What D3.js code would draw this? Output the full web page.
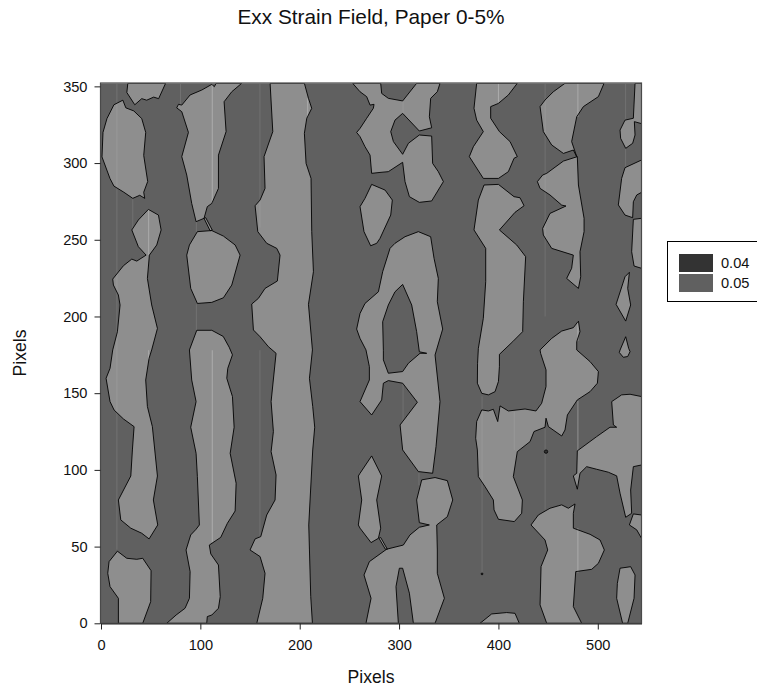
<!DOCTYPE html>
<html>
<head>
<meta charset="utf-8">
<script src="https://cdn.jsdelivr.net/npm/d3@7"></script>
<style>
    body { margin: 0; background: #fff; }
    svg { display: block; }
    text { font-family: "Liberation Sans", Arial, sans-serif; fill: #111; }
    .tick text { font-size: 14.6px; font-family: "Liberation Sans", Arial, sans-serif; fill: #111; }
    .tick line, .domain { stroke: #222; }
</style>
</head>
<body>
<svg width="757" height="688"></svg>
<script>
// **** Contour outlines, in [pixel x, pixel y] ****

var topLeftOval = [[1,304],[2,320],[6,329],[13,338],[22,341],[25,336],[33,334],[41,329],[45,320],[43,305],[47,288],[43,281],[44,277],[39,279],[32,277],[23,281],[13,285],[9,290]];
var topNotch = [[27,352],[26,346],[34,338],[41,342],[46,341],[53,343],[58,342],[65,352]];
var secondBandTop = [[141.6,352],[131.6,346.5],[123.9,340],[125.9,320.5],[118.2,305.2],[118.2,283.5],[111.5,273.7],[107,271.6],[103.7,264],[95.7,261.8],[91.3,273.7],[86.3,292.2],[81.3,304.2],[88,320],[81.3,333.5],[76.2,336],[78,338.3],[81.3,337.8],[89.7,344.4],[101.4,347.6],[111.5,351.3],[114.1,349.8],[115.8,352]];
var firstBand = [[11.8,178.2],[9.1,166.2],[5.1,159.7],[9.1,144.5],[13.2,139],[22.6,133.2],[33.3,128.2],[31.6,113],[30,96],[17.5,80.4],[19.9,67.4],[30,62],[41,58.7],[48.4,55],[57.1,64.1],[52.7,80.4],[56.8,96],[51.7,128.2],[46.7,141.3],[45,158.6],[48.4,172.8],[51,178.2],[56.8,192.2],[51,207.5],[46.7,224.8],[48.7,240],[56.1,246.6],[60.5,256.4],[57.8,266.1],[47.7,269.8],[37.6,262.9],[31,256.4],[37.6,245.5],[45.4,240],[36,236.1],[31,237.4],[22.6,233.1],[11.8,224.4],[12.5,220.5],[17.5,214],[19.2,207.5],[16.5,190]];
var bottomLeft = [[17.5,0],[17.5,16.3],[9.1,23.9],[6.8,32.6],[8.1,40.2],[16.5,47],[25.9,42.4],[36,41.7],[42,42.4],[50.4,34.3],[50,14.1],[42,0]];
var pentagon = [[97,255.3],[111.5,256],[123.2,252.4],[135,246.6],[140,240],[131.6,220.5],[123.2,212.2],[111.5,209.2],[97,208.5],[90.3,218.3],[86.3,240],[89,246.6]];
var sliverLeft = [[103.7,264],[105.4,264.4],[112,256.3],[109.8,255.9]];
var secondBandLow = [[89,178.2],[96.4,191],[111.5,191],[123,187],[129,180],[132.3,175],[127.6,166.2],[126.6,159.7],[132.3,147.8],[134,127.8],[130,110.8],[136,91.3],[135,73.2],[127.2,65.2],[120.5,56],[109,51],[110.5,45.2],[118.2,38],[120,17.4],[118.2,9.8],[111.5,5.4],[107,4.4],[106.4,0],[66.2,0],[75.6,5.4],[84.6,9.8],[89,16.3],[89.7,33.7],[85.6,47.8],[90.3,57.6],[95.7,61.3],[99,64.1],[97,95.6],[95.7,110.8],[90.3,127.8],[95.7,144.5],[91.3,158.6]];
var centreBand = [[170.2,352],[172.9,320.5],[164.1,304.2],[165.1,283.5],[160.1,275.9],[155.1,272.2],[157.8,255.3],[166.8,247.7],[176.9,244.4],[180.2,240],[177.5,223.1],[165.1,218.3],[158.4,211.8],[151.7,208.1],[153.4,191.2],[160.1,186.8],[168.5,180.3],[176.2,176],[171.2,144.5],[173.5,125],[171.2,111.9],[176.2,96.7],[175.2,80.4],[166.8,70.6],[160.8,56.5],[155.1,55],[150,47.8],[160.1,43.5],[165.1,32.6],[162.8,16.3],[156.8,0],[212.8,0],[211.1,17.4],[209.8,47.8],[209.1,64.1],[213.1,113],[215.1,127.8],[213.1,141.3],[209.8,159.7],[212.8,178.2],[208.8,207.9],[213.8,229.2],[212.1,255.3],[211.4,290],[206.4,299.8],[204.7,319.4],[207.1,329.2],[212.1,335.7],[208.8,342.2],[204.7,352]];
var topMiddle = [[253.3,352],[281.5,352],[282.5,345.4],[289.2,342.2],[303.6,340.5],[317.7,352],[341.2,352],[338.5,346.5],[331.8,342.2],[330.5,330.2],[332.8,323],[320.4,320.9],[303.6,332.4],[295.9,328],[291.6,320.5],[294.3,314],[303.6,305.7],[309.4,312.9],[320.4,318.3],[332.8,317.6],[333.8,299.8],[339.5,294.4],[344.6,287.9],[332.8,275.3],[320.4,274.4],[310.4,278.1],[306,287.9],[303.6,300.5],[289.2,294.4],[280.8,293.9],[272.4,293.3],[270.8,305.2],[265.7,310.7],[260.7,317.2],[257.3,320],[260.7,322.6],[267.4,329.2],[274.1,335.7],[274.8,338.3],[270.8,337.8],[267.4,343.3],[260.7,346.5]];
var smallOval = [[272.4,286.1],[285.9,282.4],[293.2,275.9],[291.6,266.1],[280.8,250.9],[277.5,247.7],[271.4,246.1],[264.7,255.3],[260.7,271.6],[265.7,277]];
var arch = [[319.4,255.3],[331.8,252],[335.2,237.9],[339.5,224.8],[338.5,209.6],[343.9,191.8],[336.2,174.9],[341.2,144.5],[337.2,115.2],[333.8,97.8],[319.4,98.9],[303.6,113],[301,129.3],[318.4,144.1],[303.6,156.5],[289.2,158.2],[284.2,156.5],[282.5,145.6],[272.4,135.8],[260.7,144.5],[270.1,158.6],[270.1,167.3],[266.7,178.2],[260.7,185.7],[257.3,191.8],[260.7,202],[265.7,208.5],[279.2,216.1],[283.5,229.2],[290.9,244.4],[295.9,247.7],[306,252]];
var archHole = [[303.6,220.9],[312.7,207.5],[317.7,190.1],[320.4,177],[327.8,176],[321.1,176],[309.4,169.5],[303.6,164.1],[289.2,163],[284.2,171.7],[284.2,178],[283.5,196.6],[289.2,207.5],[295.9,216.1]];
var lowerMiddle = [[322.8,93.5],[336.2,95],[348.6,93],[354,80.4],[348.6,69.5],[337.9,64.1],[338.5,47.8],[338.5,32.6],[345.6,16.3],[336.2,0],[314.4,0],[310.4,19.6],[303.6,35.9],[300.3,35.9],[296.9,23.9],[299.3,0],[266.7,0],[271.8,16.3],[264.7,31.5],[270.1,40.2],[287.5,48.3],[304.3,51],[311,57.6],[320.4,62.6],[330.5,64.1],[320.4,65.6],[317.7,80.4]];
var narrowOval = [[272.4,109.1],[282.5,96],[277.5,80.4],[281.5,62],[279.2,55.4],[271.8,52.6],[260.7,62],[259,64.1],[262.4,80.4],[259,96],[260.7,97.8]];
var sliverRight = [[279.8,55.4],[281.5,55.9],[288.2,48.3],[286.2,48.3]];
var column400Top = [[378.1,352],[375.4,335.7],[378.1,328],[384.8,320.5],[374.8,310.7],[370.7,304.2],[384.8,290],[400,290],[410,294.4],[415.7,303.1],[419,304.2],[411.7,314],[401,320.5],[392.2,329.2],[392.2,336.8],[400,338.9],[410,344.4],[419,352]];
var column400 = [[385.5,285.7],[400,286.1],[415.7,278.1],[421.7,277.4],[425.8,272.2],[416.7,267.9],[401,256.4],[418.4,246.6],[427.4,239],[425.1,209.6],[424.4,190.1],[414.4,183.6],[401,175.3],[401,167.3],[400,157.6],[396.6,151],[389.9,148.9],[383.2,149.9],[378.8,156.5],[379,169.5],[379.8,179.2],[384.8,198.8],[387.2,222.7],[387.2,244.4],[375.4,256.4],[379.8,275.9]];
var lowerRightBig = [[480.5,197],[482.1,190.1],[478.8,183.6],[478.8,178.2],[492.2,170.6],[500.6,164.1],[499.6,156.5],[492.2,151],[479.4,145.6],[469.4,135.8],[467,126],[463.7,122.1],[450.3,128.2],[447.9,133.7],[446.9,127.8],[435.8,125],[431.8,118.4],[419,111.9],[415,95.6],[424.1,80.4],[423.4,71.7],[416,66.3],[400,67.8],[395.6,73.9],[394.9,80.4],[386.5,89.1],[379.8,95.6],[378.8,113],[377.1,120.6],[378.1,131.5],[383.2,139.1],[389.9,138.4],[394.9,139.5],[399.3,131.5],[401.6,141.7],[410,138.4],[426.8,139.7],[437.8,138.4],[443.5,143.4],[447.9,154.3],[447.9,165.2],[442.5,175.9],[441.9,178.2],[453.6,185.7],[463.7,190.5],[475.4,192.7]];
var column480Top = [[467,352],[455.3,346.5],[446.9,341.1],[441.9,336.8],[445.2,320.5],[453.6,311.8],[465.4,306.3],[475.4,308.5],[478.8,304.2],[473.7,314],[478.8,330.2],[485.5,336.8],[500.6,343.3],[506.3,352]];
var column480 = [[479.4,304.2],[465.4,301.3],[448.6,293.3],[444.5,292.2],[439.2,287.9],[441.9,283.5],[451.9,279.2],[463.7,272.6],[468,272],[451.9,267.2],[444.5,257.4],[445.2,253.1],[453.6,244.4],[475.4,240],[473.7,231.4],[468.7,224.8],[480.5,218.3],[482.8,225.9],[482.1,242.2],[486.2,255.3],[486.2,264],[480.5,285.7]];
var edgeTop = [[537.5,352],[535.8,329.2],[527.4,328],[522.4,321.5],[523,316.1],[528.1,309.6],[535.1,312.9],[537.5,318.3],[536.8,327],[544,325.7],[544,352]];
var edgeSecond = [[544,302],[527.4,297],[524,290],[520.7,272.7],[527.4,266.1],[535.1,264.4],[535.8,274.8],[539.2,279.2],[544,280.9]];
var edgeThird = [[544,264],[535.8,263.3],[534.1,242.2],[536.5,232.9],[544,231.4]];
var edgeLeaf = [[531.8,228.8],[527.4,225.9],[518.4,207.9],[528.1,197],[533.1,207.5],[530.1,218.3]];
var edgeDrop = [[528.1,186.8],[522.4,178.1],[521.7,176.5],[525.7,173.4],[530.1,173.9],[532.5,177.1],[531.1,179.2]];
var edgeLarge = [[514,144.5],[524,148.9],[532.5,149.3],[544,147.8],[544,103.2],[535.8,102.1],[533.1,86.9],[534.1,71.7],[528.1,69.1],[522.4,84.8],[519,96.1],[510.6,98.5],[498.9,100.4],[488.8,102.1],[482.1,97.8],[479.4,87.4],[475.4,96.1],[478.8,97.8],[479.4,112.4],[498.9,121.7],[512.3,127.8],[519,127.8],[515.7,129.3]];
var lowerColumn = [[477.1,77.8],[475.4,71.7],[475.4,62],[492.2,58],[502.3,54.3],[506.6,47.8],[500.6,39.1],[493.9,35.2],[477.8,33.7],[475.4,10.9],[483.8,0],[448.6,0],[441.9,12],[442.9,37],[449.6,47.8],[446.9,54.3],[432.8,64.1],[440.2,70.6],[451.9,75],[463.7,77.2],[470.4,75]];
var edgeWedge = [[544,70.6],[535.8,71.3],[531.8,64.1],[539.2,60.9],[544,55.4]];
var bottomOval = [[522.4,35.9],[533.1,36.9],[537.5,31.5],[536.5,16.3],[530.1,0],[525,0],[519,16.3],[519.7,26]];
var bottomBump = [[381.5,0],[393.2,6.1],[408.3,7],[416.7,6.5],[421,0]];

var highRegions = [topLeftOval, topNotch, secondBandTop, firstBand, bottomLeft, pentagon, sliverLeft, secondBandLow,
    centreBand, topMiddle, smallOval, arch, lowerMiddle, narrowOval, sliverRight, column400Top, column400,
    lowerRightBig, column480Top, column480, edgeTop, edgeSecond, edgeThird, edgeLeaf, edgeDrop, edgeLarge,
    lowerColumn, edgeWedge, bottomOval, bottomBump];
var lowRegions = [archHole];

// small closed contours, [x, y, radius in pixels of the plot]
var spots = [[447.9,111.9,1.7],[383.5,32.2,0.9]];

// thin column artefacts, [x, y from, y to]
var brightStreaks = [[48,270,240],[48,178,172],[112,352,274],[112,178,53],[208,342,330],[400,352,340],[480,352,330],[480,197,184],[480,145,113],[480,62,33]];
var faintStreaks = [[16,352,48],[32,277,257],[80,352,338],[96,262,255],[96,208,191],[160,352,258],[160,178,56],[304,340,332],[304,156,131],[320,98,90],[383.5,148,33],[416,138,113],[447,352,200],[447,127,74],[528,352,328],[528,310,297]];

var legendLevels = ['0.04', '0.05'];
var xTicks = [0, 100, 200, 300, 400, 500];
var yTicks = [0, 50, 100, 150, 200, 250, 300, 350];

// **** Scales and helpers ****

var xScale = d3.scaleLinear().domain([0, 544]).range([101, 641.5]);
var yScale = d3.scaleLinear().domain([0, 352]).range([623.3, 83.3]);

var outline = d3.line()
    .x(function(d){ return xScale(d[0]); })
    .y(function(d){ return yScale(d[1]); })
    .curve(d3.curveLinearClosed);

var svg = d3.select('svg');

svg.append('clipPath').attr('id', 'plot-clip')
    .append('rect')
    .attr('x', 101).attr('y', 83.3).attr('width', 540.5).attr('height', 540);

var plot = svg.append('g').attr('clip-path', 'url(#plot-clip)');

plot.append('rect')
    .attr('x', 101).attr('y', 83.3).attr('width', 540.5).attr('height', 540)
    .attr('fill', '#606060');

plot.selectAll('.high').data(highRegions).enter().append('path')
    .attr('class', 'high')
    .attr('d', outline)
    .attr('fill', '#8e8e8e');

plot.selectAll('.low').data(lowRegions).enter().append('path')
    .attr('class', 'low')
    .attr('d', outline)
    .attr('fill', '#606060');

function drawStreaks(rows, opacity) {
    plot.append('g').selectAll('line').data(rows).enter().append('line')
        .attr('x1', function(d){ return xScale(d[0]); })
        .attr('x2', function(d){ return xScale(d[0]); })
        .attr('y1', function(d){ return yScale(d[1]); })
        .attr('y2', function(d){ return yScale(d[2]); })
        .attr('stroke', '#d0d0d0')
        .attr('stroke-opacity', opacity);
}
drawStreaks(faintStreaks, 0.16);
drawStreaks(brightStreaks, 0.45);

plot.selectAll('.contour').data(highRegions.concat(lowRegions)).enter().append('path')
    .attr('class', 'contour')
    .attr('d', outline)
    .attr('fill', 'none')
    .attr('stroke', '#000')
    .attr('stroke-width', 0.9);

plot.selectAll('circle').data(spots).enter().append('circle')
    .attr('cx', function(d){ return xScale(d[0]); })
    .attr('cy', function(d){ return yScale(d[1]); })
    .attr('r', function(d){ return d[2]; })
    .attr('fill', '#333')
    .attr('stroke', '#000')
    .attr('stroke-width', 0.8);

// frame
svg.append('rect')
    .attr('x', 100.5).attr('y', 83).attr('width', 541).attr('height', 540.3)
    .attr('fill', 'none')
    .attr('stroke', '#4a4a4a')
    .attr('stroke-width', 1.2);

// **** Axes and labels ****

svg.append('g').attr('class', 'x axis')
    .attr('transform', 'translate(0,623.5)')
    .call(d3.axisBottom(xScale).tickValues(xTicks).tickSize(6).tickPadding(10).tickSizeOuter(0).tickFormat(function(d){ return d; }));

svg.append('g').attr('class', 'y axis')
    .attr('transform', 'translate(100.5,0)')
    .call(d3.axisLeft(yScale).tickValues(yTicks).tickSize(6).tickPadding(7).tickSizeOuter(0).tickFormat(function(d){ return d; }))
    .select('.domain').remove();

svg.append('text')
    .attr('x', 371).attr('y', 24)
    .attr('text-anchor', 'middle')
    .attr('font-size', 20.8)
    .text('Exx Strain Field, Paper 0-5%');

svg.append('text')
    .attr('x', 371).attr('y', 682.5)
    .attr('text-anchor', 'middle')
    .attr('font-size', 17.6)
    .text('Pixels');

svg.append('text')
    .attr('transform', 'translate(25.5,353) rotate(-90)')
    .attr('text-anchor', 'middle')
    .attr('font-size', 17.6)
    .text('Pixels');

// **** Legend ****

svg.append('rect')
    .attr('x', 667.5).attr('y', 241.5).attr('width', 95).attr('height', 60)
    .attr('fill', '#fff')
    .attr('stroke', '#000');

var legendRow = d3.scaleBand().domain(legendLevels).range([254, 292]).paddingInner(0.1);
var legendFill = d3.scaleOrdinal().domain(legendLevels).range(['#333333', '#606060']);

var legend = svg.selectAll('.legend').data(legendLevels).enter().append('g')
    .attr('class', 'legend')
    .attr('transform', function(d){ return 'translate(679,' + legendRow(d) + ')'; });

legend.append('rect')
    .attr('width', 34)
    .attr('height', legendRow.bandwidth())
    .attr('fill', function(d){ return legendFill(d); });

legend.append('text')
    .attr('x', 42)
    .attr('y', legendRow.bandwidth() / 2 + 5)
    .attr('font-size', 14.6)
    .text(function(d){ return d; });
</script>
</body>
</html>
